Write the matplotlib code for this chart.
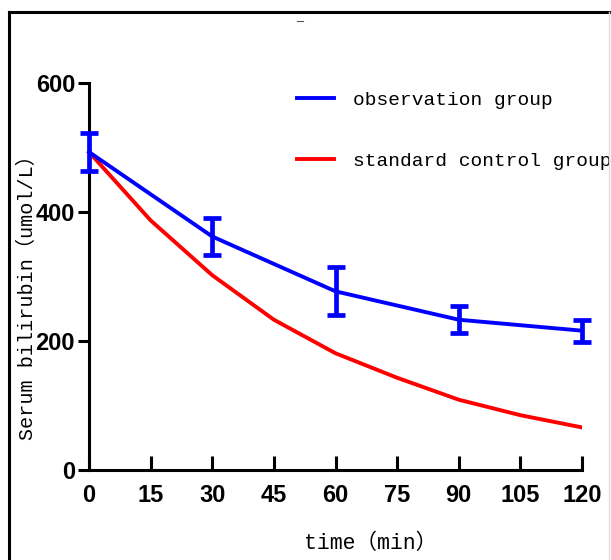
import numpy as np
import matplotlib.pyplot as plt
from matplotlib.lines import Line2D

# data
t_obs = [0, 30, 60, 90, 120]
obs_mean = [493, 362, 277, 233, 216]
obs_err = [29, 29, 37, 21, 17]

t_ctrl = [0, 15, 30, 45, 60, 75, 90, 105, 120]
ctrl_mean = [493, 387, 302, 233, 181, 143, 109, 85, 66]

x_ticks = [0, 15, 30, 45, 60, 75, 90, 105, 120]
y_ticks = [0, 200, 400, 600]

tick_font = ['Liberation Sans Narrow', 'Liberation Sans', 'DejaVu Sans']
text_font = ['Liberation Mono', 'Noto Sans CJK SC', 'DejaVu Sans']

fig = plt.figure(figsize=(6.11, 5.60), dpi=100)
ax = fig.add_axes([89 / 611, 1 - 470 / 560, (582 - 89) / 611, (470 - 83) / 560])

ax.plot(t_ctrl, ctrl_mean, color='#ff0000', lw=2.8, solid_joinstyle='miter', zorder=2)
eb = ax.errorbar(t_obs, obs_mean, yerr=obs_err, color='#0000ff', lw=2.8, elinewidth=3.4,
                 capsize=6.5, capthick=3.4, zorder=3)
for art in eb.lines[1] + eb.lines[2]:
    art.set_clip_on(False)
eb.lines[0].set_clip_on(False)

ax.set_xlim(0, 120)
ax.set_ylim(0, 600)
ax.set_xticks(x_ticks)
ax.set_yticks(y_ticks)
for s in ['top', 'right']:
    ax.spines[s].set_visible(False)
for s in ['left', 'bottom']:
    ax.spines[s].set_linewidth(2.2)
ax.tick_params(axis='x', direction='in', length=10, width=2.2, pad=10)
ax.tick_params(axis='y', direction='out', length=8, width=2.2, pad=2)
for lab in ax.get_xticklabels() + ax.get_yticklabels():
    lab.set_family(tick_font)
    lab.set_fontweight('bold')
    lab.set_fontsize(17)

ax.set_xlabel('time（min）', family=text_font, fontsize=15.5)
ax.xaxis.set_label_coords((371 - 89) / 493, -(533 - 470) / 387)
ax.set_ylabel('Serum bilirubin（umol/L）', family=text_font, fontsize=14.5)
ax.yaxis.set_label_coords(-(89 - 37) / 493, (470 - 293) / 387)

h_obs = Line2D([], [], color='#0000ff', lw=2.8)
h_ctrl = Line2D([], [], color='#ff0000', lw=2.8)
ax.legend([h_obs, h_ctrl], ['observation group', 'standard control group'],
          loc='upper left', bbox_to_anchor=(297 / 611, 1 - 91 / 560),
          bbox_transform=fig.transFigure, frameon=False,
          prop={'family': text_font, 'size': 14},
          handlelength=1.9, handletextpad=1.0, labelspacing=2.25,
          borderpad=0, borderaxespad=0)

# outer frame of the picture (left and top black, right light gray)
fig.add_artist(Line2D([9 / 611, 9 / 611], [0, 1 - 12 / 560], color='black', lw=2.2,
                      transform=fig.transFigure))
fig.add_artist(Line2D([9 / 611, 609 / 611], [1 - 12 / 560, 1 - 12 / 560], color='black',
                      lw=2.2, transform=fig.transFigure))
fig.add_artist(Line2D([609 / 611, 609 / 611], [0, 1 - 12 / 560], color='#dddddd', lw=1,
                      transform=fig.transFigure))
fig.add_artist(Line2D([297 / 611, 303 / 611], [1 - 21 / 560, 1 - 21 / 560], color='#555555',
                      lw=0.8, transform=fig.transFigure))

fig.savefig('out.png', dpi=100)
